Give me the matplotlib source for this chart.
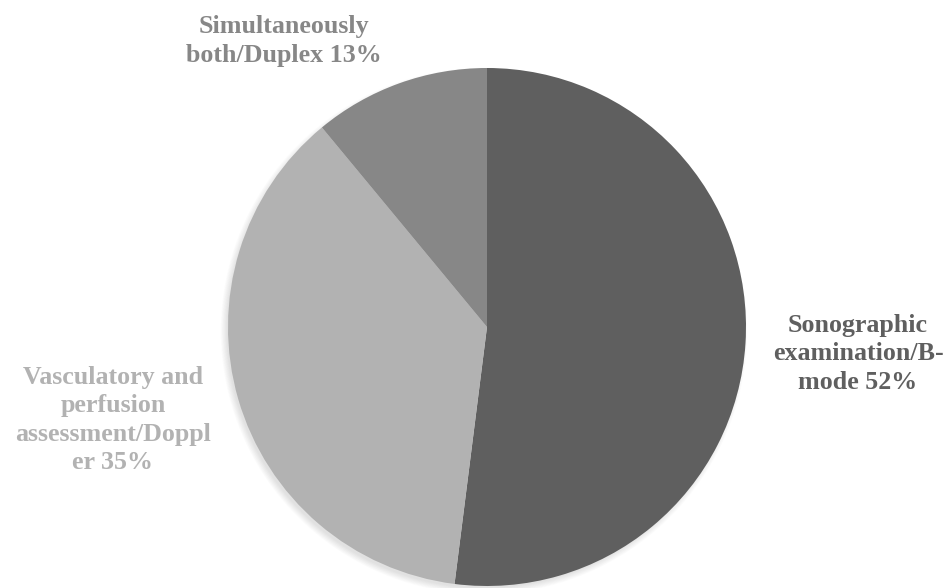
import matplotlib.pyplot as plt
from matplotlib.patches import Circle

# slice sizes as drawn (clockwise from 12 o'clock)
shares = [52, 37, 11]
# printed labels
names = ["Sonographic\nexamination/B-\nmode", "Vasculatory and\nperfusion\nassessment/Doppl\ner", "Simultaneously\nboth/Duplex"]
pct_text = ["52%", "35%", "13%"]
colors = ["#5f5f5f", "#b2b2b2", "#878787"]

W, H = 947, 588
fig = plt.figure(figsize=(W / 100, H / 100), dpi=100)
ax = fig.add_axes([0, 0, 1, 1])

cx, cy, r = 487, H - 327, 259

# soft shadow under the pie, shifted down-left
for i in range(10):
    ax.add_patch(Circle((cx - 3, cy - 4), r - 2 + i * 0.7, color="black",
                        alpha=0.012, lw=0, zorder=0))

ax.pie(shares, colors=colors, startangle=90, counterclock=False,
       center=(cx, cy), radius=r, frame=True,
       wedgeprops=dict(linewidth=0))
ax.set_xlim(0, W)
ax.set_ylim(0, H)
ax.axis("off")

label_pos = [(858, H - 354), (113, H - 420), (284, H - 41)]
for name, pct, col, (x, y) in zip(names, pct_text, colors, label_pos):
    ax.text(x, y, f"{name} {pct}", ha="center", va="center", color=col,
            fontfamily="Liberation Serif", fontweight="bold", fontsize=18.7,
            linespacing=1.3)

fig.savefig("out.png", dpi=100)
